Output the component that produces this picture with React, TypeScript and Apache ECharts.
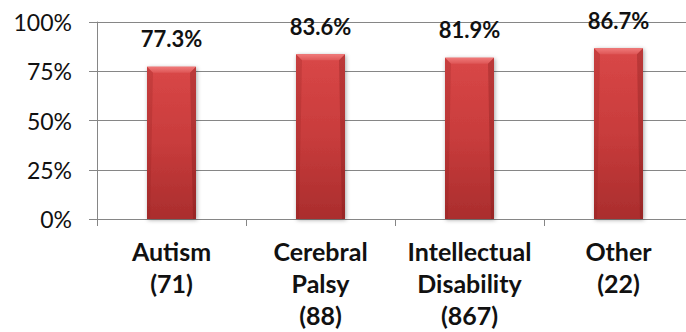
import React, { useEffect, useRef } from "react";
import * as echarts from "echarts";

// Share of each group, in percent, with group sizes in the axis labels
const categoryLabels = [
  "Autism\n(71)",
  "Cerebral\nPalsy\n(88)",
  "Intellectual\nDisability\n(867)",
  "Other\n(22)",
];
const percentValues = [77.3, 83.6, 81.9, 86.7];
const yTicks = [0, 25, 50, 75, 100];

const BAR_WIDTH = 49;
const BEVEL = 6;
const FONT = "Lato, 'Open Sans', 'DejaVu Sans', sans-serif";

export default function App() {
  const ref = useRef<HTMLDivElement>(null);

  useEffect(() => {
    if (!ref.current) return;
    const chart = echarts.init(ref.current, undefined, { renderer: "svg" });

    const barFill = new echarts.graphic.LinearGradient(0, 0, 0, 1, [
      { offset: 0, color: "#d94747" },
      { offset: 0.5, color: "#c83c3c" },
      { offset: 1, color: "#aa2d2d" },
    ]);

    chart.setOption({
      animation: false,
      backgroundColor: "#ffffff",
      grid: {
        left: 97,
        right: -7,
        top: 22,
        bottom: 113,
        containLabel: false,
        outerBoundsMode: "none",
      },
      xAxis: {
        type: "category",
        data: categoryLabels,
        boundaryGap: true,
        axisLine: { show: true, lineStyle: { color: "#868686", width: 1 } },
        axisTick: { show: true, length: 7, interval: 0, lineStyle: { color: "#868686" } },
        axisLabel: {
          interval: 0,
          margin: 16,
          fontFamily: FONT,
          fontWeight: "bold",
          fontSize: 25,
          lineHeight: 32,
          color: "#111",
        },
      },
      yAxis: {
        type: "value",
        min: yTicks[0],
        max: yTicks[yTicks.length - 1],
        interval: 25,
        axisLine: { show: true, lineStyle: { color: "#868686", width: 1 } },
        axisTick: { show: true, length: 8, lineStyle: { color: "#868686" } },
        splitLine: { show: true, lineStyle: { color: "#868686", width: 1 } },
        axisLabel: {
          formatter: "{value}%",
          margin: 25,
          fontFamily: FONT,
          fontSize: 23,
          color: "#111",
        },
      },
      series: [
        {
          type: "bar",
          data: percentValues,
          barWidth: BAR_WIDTH,
          itemStyle: {
            color: barFill,
            shadowBlur: 4,
            shadowColor: "rgba(0,0,0,0.35)",
            shadowOffsetX: 1,
            shadowOffsetY: 1,
          },
          label: {
            show: true,
            position: "top",
            distance: 17,
            formatter: (p: any) => p.value.toFixed(1) + "%",
            fontFamily: FONT,
            fontWeight: "bold",
            fontSize: 22,
            color: "#111",
          },
          z: 2,
        },
        {
          // bevel highlight on top of each bar and darker side edges
          type: "custom",
          data: percentValues,
          z: 3,
          silent: true,
          renderItem: (params: any, api: any) => {
            const idx = api.value(0);
            const val = api.value(1);
            const top = api.coord([idx, val]);
            const base = api.coord([idx, 0]);
            const x0 = top[0] - BAR_WIDTH / 2;
            const x1 = top[0] + BAR_WIDTH / 2;
            const y0 = top[1];
            const y1 = base[1];
            return {
              type: "group",
              children: [
                {
                  type: "polygon",
                  shape: {
                    points: [
                      [x0, y0],
                      [x1, y0],
                      [x1 - BEVEL, y0 + BEVEL],
                      [x0 + BEVEL, y0 + BEVEL],
                    ],
                  },
                  style: {
                    fill: new echarts.graphic.LinearGradient(0, 0, 0, 1, [
                      { offset: 0, color: "#f07a7a" },
                      { offset: 1, color: "#de5656" },
                    ]),
                  },
                },
                {
                  type: "polygon",
                  shape: {
                    points: [
                      [x0, y0],
                      [x0 + BEVEL, y0 + BEVEL],
                      [x0 + 3, y1],
                      [x0, y1],
                    ],
                  },
                  style: { fill: "rgba(120,20,20,0.18)" },
                },
                {
                  type: "polygon",
                  shape: {
                    points: [
                      [x1, y0],
                      [x1 - BEVEL, y0 + BEVEL],
                      [x1 - 3, y1],
                      [x1, y1],
                    ],
                  },
                  style: { fill: "rgba(100,15,15,0.25)" },
                },
              ],
            };
          },
          encode: { x: 0, y: 1 },
        },
      ],
    });

    return () => chart.dispose();
  }, []);

  return (
    <div
      ref={ref}
      style={{ position: "fixed", left: 0, top: 0, width: 686, height: 332 }}
    />
  );
}
